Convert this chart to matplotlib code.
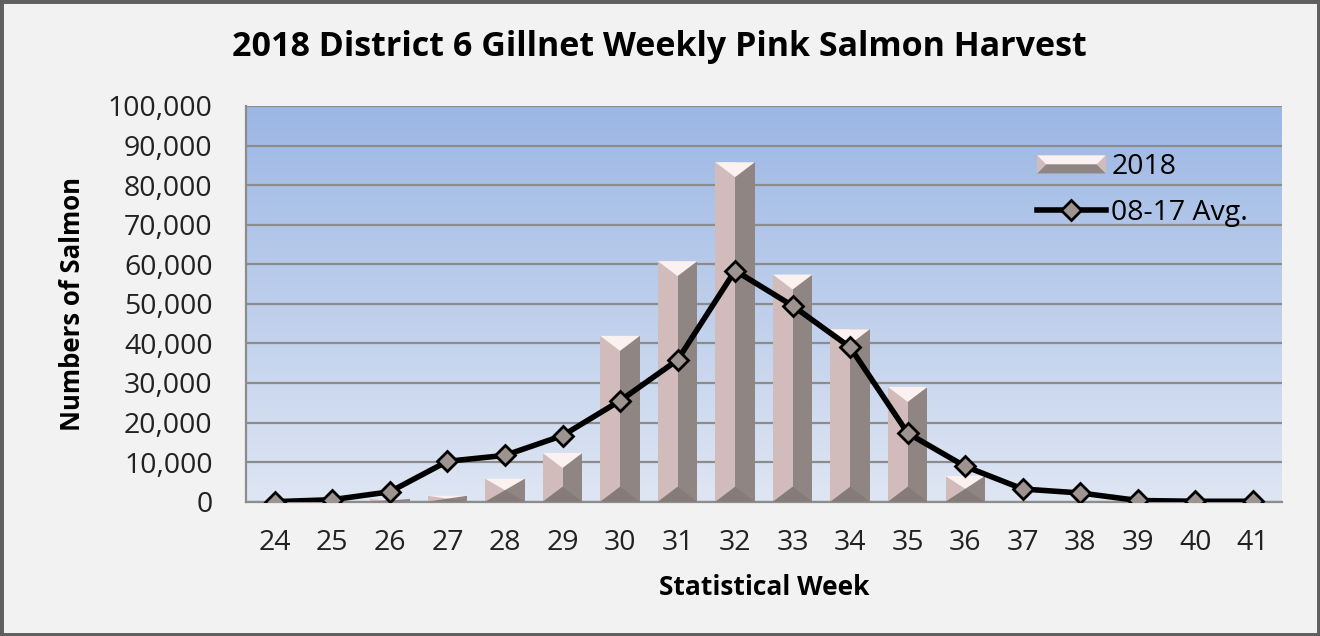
"""
District 6 gillnet weekly pink salmon harvest, 2018 vs 08-17 average.
"""

import matplotlib
matplotlib.use("Agg")
import matplotlib.pyplot as plt
import matplotlib.ticker as mticker
from matplotlib.patches import Rectangle, Polygon
from matplotlib.legend_handler import HandlerBase
from matplotlib.lines import Line2D
import numpy as np

plt.rcParams["font.family"] = ["Open Sans", "DejaVu Sans"]

# Data
weeks = [24, 25, 26, 27, 28, 29, 30, 31, 32, 33, 34, 35, 36, 37, 38, 39, 40, 41]
harvest_2018 = [0, 0, 700, 1500, 5800, 12300, 41900, 60800, 85800,
                57400, 43600, 29000, 6500, 0, 0, 0, 0, 0]
avg_08_17 = [0, 500, 2500, 10200, 11700, 16700, 25500, 35800, 58400,
             49500, 39000, 17300, 8900, 3200, 2200, 300, 100, 100]

TITLE = "2018 District 6 Gillnet Weekly Pink Salmon Harvest"
XLABEL = "Statistical Week"
YLABEL = "Numbers of Salmon"

# Colours
BG = "#f2f2f2"
GRAD_TOP = "#9cb7e4"
GRAD_BOTTOM = "#dfe6f3"
GRID = "#8c8c8c"
FACE_LIGHT = "#d2bcbb"
FACE_DARK = "#8f8582"
BEVEL_TOP = "#fbf1f1"
BEVEL_BOTTOM = "#857b78"
MARKER_FILL = "#9d9390"

W, H, DPI = 13.2, 6.36, 100
fig = plt.figure(figsize=(W, H), dpi=DPI, facecolor=BG)
ax = fig.add_axes([0.1864, 0.2112, 0.7846, 0.6222])

YMAX = 100000
ax.set_xlim(23.5, 41.5)
ax.set_ylim(0, YMAX)

# gradient plot area
grad = np.linspace(0, 1, 256).reshape(-1, 1)
top_rgb = np.array(matplotlib.colors.to_rgb(GRAD_TOP))
bot_rgb = np.array(matplotlib.colors.to_rgb(GRAD_BOTTOM))
img = top_rgb * (1 - grad[..., None]) + bot_rgb * grad[..., None]
ax.imshow(img, extent=[23.5, 41.5, 0, YMAX], aspect="auto", zorder=0,
          origin="upper", interpolation="bilinear")

ax.yaxis.set_major_locator(mticker.MultipleLocator(10000))
ax.yaxis.set_major_formatter(mticker.FuncFormatter(lambda v, p: f"{v:,.0f}"))
ax.grid(axis="y", color=GRID, linewidth=1.6, zorder=1)
ax.set_axisbelow(True)
for s in ["top", "right"]:
    ax.spines[s].set_visible(False)
ax.spines["left"].set_color(GRID)
ax.spines["bottom"].set_color(GRID)
ax.spines["left"].set_linewidth(1.6)
ax.spines["bottom"].set_linewidth(1.6)

# bevelled bars: light left face, dark right face, bevel triangles top and bottom
bar_w = 0.687
hw = bar_w / 2
ax_h_px = 0.6222 * H * DPI
units_per_px = YMAX / ax_h_px
bevel_px = 15

x = np.array(weeks, dtype=float)
h = np.array(harvest_2018, dtype=float)
ax.bar(x - hw / 2, h, width=hw, color=FACE_LIGHT, zorder=2, linewidth=0)
ax.bar(x + hw / 2, h, width=hw, color=FACE_DARK, zorder=2, linewidth=0)
for xi, hi in zip(x, h):
    if hi <= 0:
        continue
    d = min(bevel_px * units_per_px, hi / 2)
    ax.add_patch(Polygon([[xi - hw, hi], [xi + hw, hi], [xi, hi - d]],
                         closed=True, facecolor=BEVEL_TOP, edgecolor="none", zorder=3))
    ax.add_patch(Polygon([[xi - hw, 0], [xi + hw, 0], [xi, d]],
                         closed=True, facecolor=BEVEL_BOTTOM, edgecolor="none", zorder=3))

ax.plot(weeks, avg_08_17, color="black", linewidth=4, marker="D", markersize=10.5,
        markerfacecolor=MARKER_FILL, markeredgecolor="black", markeredgewidth=2,
        zorder=5)

ax.set_xticks(weeks)
ax.tick_params(axis="x", length=0, pad=20, labelsize=20.5, colors="#222222")
ax.tick_params(axis="y", length=0, pad=24, labelsize=20.5, colors="#222222")

ax.set_xlabel(XLABEL, fontsize=19, fontweight="bold", labelpad=12)
ax.set_ylabel(YLABEL, fontsize=18.5, fontweight="bold", labelpad=16)
fig.text(0.4996, 0.926, TITLE, ha="center", va="center", fontsize=24.5,
         fontweight="bold")


class BevelHandler(HandlerBase):
    def create_artists(self, legend, orig_handle, xdescent, ydescent, width,
                       height, fontsize, trans):
        x0, y0 = -xdescent, -ydescent
        d = height / 2
        base = Rectangle((x0, y0), width, height, facecolor=FACE_LIGHT,
                         edgecolor="none", transform=trans)
        top = Polygon([[x0, y0 + height], [x0 + width, y0 + height],
                       [x0 + width - d, y0 + d], [x0 + d, y0 + d]],
                      facecolor=BEVEL_TOP, edgecolor="none", transform=trans)
        bot = Polygon([[x0, y0], [x0 + width, y0],
                       [x0 + width - d, y0 + d], [x0 + d, y0 + d]],
                      facecolor=FACE_DARK, edgecolor="none", transform=trans)
        return [base, top, bot]


bar_handle = Rectangle((0, 0), 1, 1)
line_handle = Line2D([], [], color="black", linewidth=4, marker="D", markersize=10.5,
                     markerfacecolor=MARKER_FILL, markeredgecolor="black",
                     markeredgewidth=2)
ax.legend([bar_handle, line_handle], ["2018", "08-17 Avg."],
          handler_map={Rectangle: BevelHandler()},
          loc="upper left", bbox_to_anchor=(0.764, 0.88), frameon=False,
          fontsize=20.5, handlelength=2.4, handleheight=0.6, handletextpad=0.2,
          labelspacing=0.6, borderpad=0, borderaxespad=0)

# dark outer border of the chart object
fig.patches.append(Rectangle((0, 0), 1, 1, transform=fig.transFigure,
                             facecolor="none", edgecolor="#5f5f5f", linewidth=5))

fig.savefig("out.png", dpi=DPI, facecolor=BG)
